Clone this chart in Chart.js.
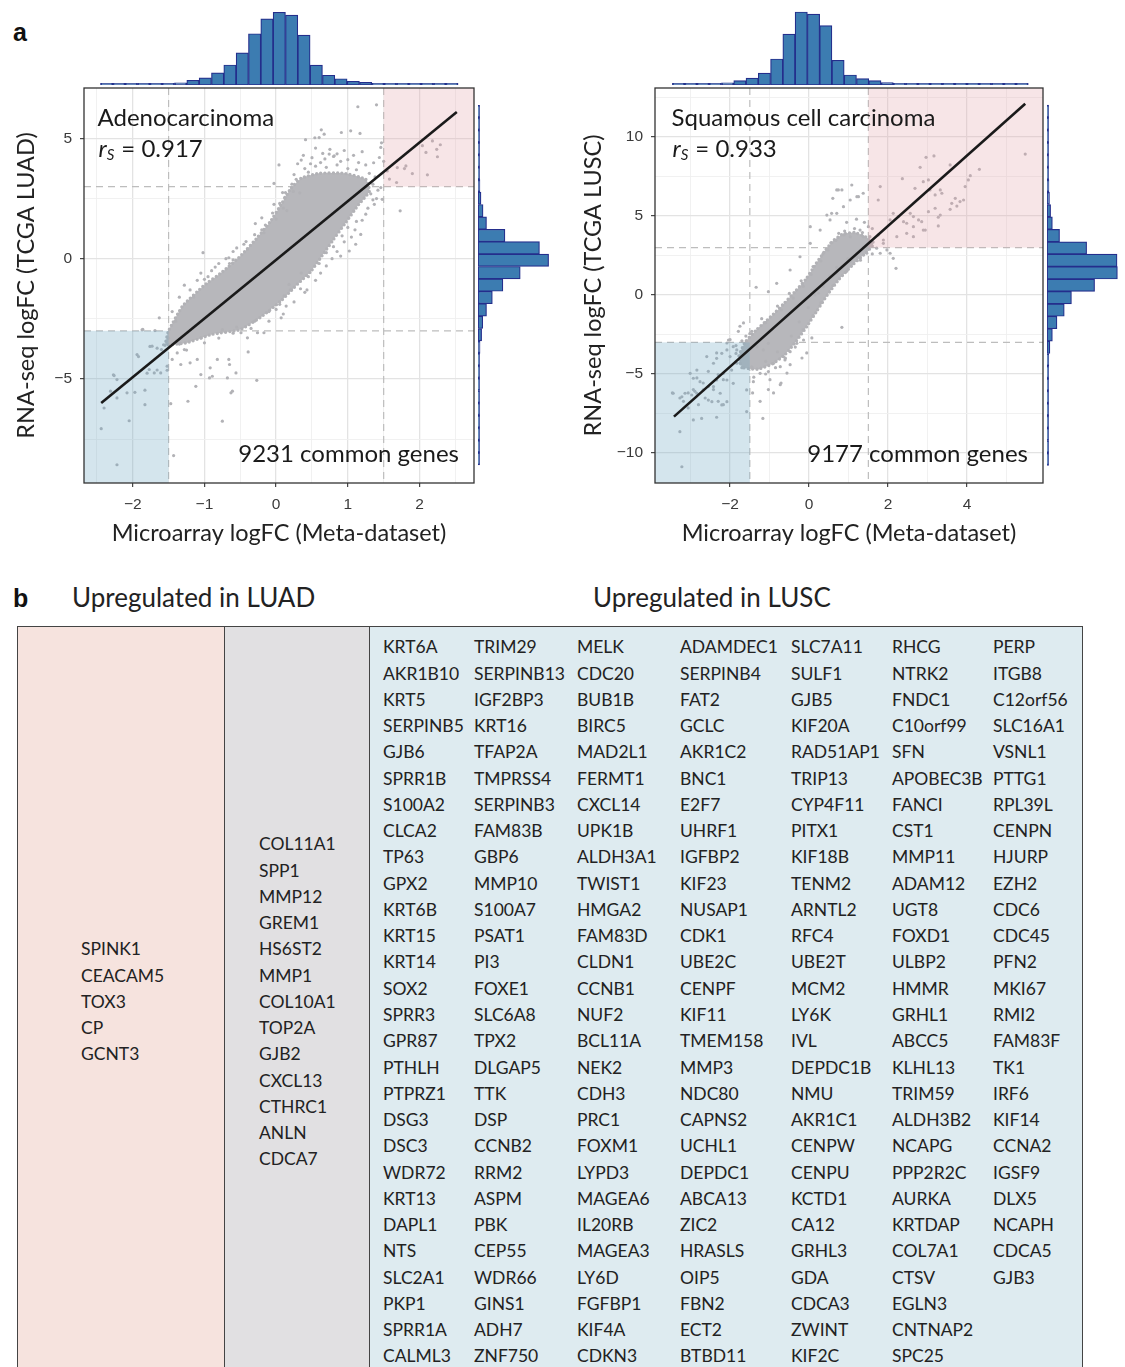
<!DOCTYPE html>
<html>
<head>
<meta charset="utf-8">
<title>LUAD / LUSC logFC comparison</title>
<script src="https://cdn.jsdelivr.net/npm/chart.js@4.4.1/dist/chart.umd.min.js"></script>
<style>
  html, body { margin: 0; padding: 0; background: #fff; }
  body { position: relative; width: 1125px; height: 1367px; overflow: hidden;
         font-family: Lato, 'Open Sans', sans-serif; color: #222; }
  canvas { position: absolute; }
  .panel-letter { position: absolute; font: bold 25px 'Liberation Sans', Arial, sans-serif; color: #111; line-height: 25px; }
  .section-title { position: absolute; font-size: 26px; line-height: 30px; color: #222; white-space: nowrap; }
  #gene-table { position: absolute; left: 17px; top: 626px; width: 1066px; height: 752px;
                display: flex; border: 1px solid #444; box-sizing: border-box;
                font-size: 17.5px; line-height: 26.26px; color: #222; }
  #gene-table .col { box-sizing: border-box; display: flex; flex-direction: column; justify-content: center; }
  #col-luad { width: 207px; background: #f6e3de; border-right: 1px solid #444; padding-left: 63px; }
  #col-gray { width: 145px; background: #e1e0e2; border-right: 1px solid #444; padding-left: 34px; }
  #col-lusc { flex: 1; background: #deebf0; padding-left: 13px; }
  #lusc-grid { display: grid; grid-template-columns: 91px 103px 103px 111px 101px 101px 1fr; }
  #lusc-grid div, #gene-table .col > div { white-space: nowrap; }
</style>
</head>
<body>
<div class="panel-letter" style="left:13px; top:20px;">a</div>
<div class="panel-letter" style="left:13px; top:586px;">b</div>
<div class="section-title" style="left:72px; top:582px;">Upregulated in LUAD</div>
<div class="section-title" style="left:593px; top:582px;">Upregulated in LUSC</div>

<canvas id="luad-top"></canvas>
<canvas id="luad-scatter"></canvas>
<canvas id="luad-side"></canvas>
<canvas id="lusc-top"></canvas>
<canvas id="lusc-scatter"></canvas>
<canvas id="lusc-side"></canvas>

<div id="gene-table">
  <div class="col" id="col-luad"></div>
  <div class="col" id="col-gray"></div>
  <div class="col" id="col-lusc"><div id="lusc-grid"></div></div>
</div>

<script>
// ---------- panel a, adenocarcinoma (microarray logFC, RNA-seq logFC) ----------
const luadPoints = [
  [1.14,6.32],[1.40,6.40],[0.63,5.36],[0.67,5.18],[0.60,5.04],[0.91,5.25],[1.04,5.32],[1.17,5.21],
  [0.41,4.95],[0.54,5.03],[1.46,4.63],[1.44,4.21],[0.74,4.35],[0.81,4.28],[0.65,4.38],[0.85,4.36],
  [0.04,3.90],[-0.03,3.13],[0.09,2.75],[0.13,2.75],[0.24,2.80],[0.33,2.74],[-0.03,2.26],[-0.29,1.46],
  [-0.17,1.08],[-0.42,0.71],[-0.66,0.04],[-1.02,0.25],[-1.00,-0.86],
  [1.69,3.79],[1.81,3.86],[1.79,3.75],[1.90,3.54],[2.11,3.49],[2.18,4.90],[2.25,4.24],[2.29,4.74],
  [2.04,4.70],[2.09,4.42],[2.24,4.55],[1.68,3.17],[1.55,3.65],[1.58,3.31],[1.50,4.05],[1.36,3.99],[1.47,4.82],
  [1.73,1.99],[1.48,2.47],[1.46,2.96],[1.37,2.26],[1.18,1.01],[1.11,0.60],[1.02,0.32],[0.90,0.11],
  [0.35,4.10],[0.50,4.20],[0.62,4.00],[0.90,4.05],[1.00,4.12],[1.15,4.00],[1.25,3.90],[0.45,3.60],
  [0.28,3.30],[1.38,3.40],[1.32,2.70],[1.40,2.50],[0.22,3.10],[0.30,3.95],[0.75,4.55],[0.95,4.50],
  [1.20,4.45],[0.55,4.60],
  [-0.70,0.00],[-0.80,-0.20],[-0.60,0.30],[-0.45,0.60],[-0.30,1.00],[-0.15,1.40],[-0.05,1.90],[0.05,2.30],
  [-1.10,-0.90],[-1.20,-1.30],[-1.35,-1.60],[-1.45,-2.20],[-0.90,-0.50],[-0.55,0.45],[-0.20,1.70],[0.10,2.10],
  [-1.28,-1.10],[-1.05,-0.60],
  [0.55,-0.90],[0.70,-0.30],[0.85,0.30],[0.95,0.70],[1.10,1.20],[1.20,1.60],[1.28,2.10],[0.25,-1.80],
  [0.10,-2.30],[-0.10,-2.60],[-0.35,-2.90],[-0.60,-3.10],[-0.80,-3.30],[-1.00,-3.50],[-1.25,-3.80],
  [0.62,-0.60],[0.40,-1.40],[0.78,0.00],[1.05,0.90],
  [0.25,3.50],[0.40,3.75],[0.55,3.85],[0.70,3.80],[0.85,3.90],[1.00,3.75],[1.12,3.70],[1.30,3.55],
  [0.38,4.30],[0.68,4.15],[1.08,4.30],[0.48,3.95],[0.80,4.25],[1.35,3.10],[1.42,2.85],[1.35,2.45],
  [1.25,1.85],[1.12,1.55],[1.00,1.30],[0.92,0.95],[0.80,0.50],[0.70,0.25],[0.60,-0.20],[0.45,-0.75],
  [0.35,-0.60],[0.20,-1.30],[0.05,-1.90],[-0.10,-2.20],[-0.30,-2.60],[-0.55,-2.85],[-0.75,-2.95],
  [-1.05,-3.30],[-1.35,-3.55],[-1.50,-3.30],[-1.40,-2.60],[-1.15,-1.60],[-0.95,-0.75],[-0.65,-0.20],
  [-0.40,0.40],[-0.20,1.20],[0.00,1.65],[0.12,2.55],[0.15,2.00],[-0.60,-0.05],[-0.85,-0.35],
  [-1.63,-2.46],[-1.86,-2.94],[-1.94,-3.99],[-1.73,-3.64],[-1.60,-3.78],[-2.26,-4.86],[-2.22,-5.03],
  [-2.31,-5.51],[-2.22,-5.79],[-2.08,-5.58],[-1.97,-5.56],[-1.83,-5.47],[-1.83,-6.07],[-2.40,-6.21],
  [-2.05,-6.74],[-2.44,-7.07],[-2.22,-8.57],[-1.43,-8.19],[-1.47,-6.03],[-1.23,-5.93],[-1.12,-5.31],
  [-0.75,-6.76],[-0.63,-5.58],[-0.61,-5.51],[-0.27,-5.06],[-0.56,-4.75],[-0.68,-4.96],[-0.93,-4.96],
  [-0.89,-4.89],[-1.05,-4.82],[-1.33,-4.40],[-1.20,-4.33],[-1.10,-4.19],[-0.92,-4.54],[-0.82,-4.19],
  [-0.66,-4.19],[-0.65,-4.40],[-0.39,-3.88],[-0.49,-3.08],[-0.40,-3.29],[-0.26,-3.08],[-0.17,-3.08],
  [0.11,-1.55],[0.14,-1.97],[0.07,-2.46],[0.00,-2.11],[0.34,-1.25],[0.43,-1.30],[0.18,-1.07],
  [-1.38,-3.92],[-1.28,-3.78],[-1.45,-4.19],[-1.52,-4.47],[-1.77,-4.61],[-1.70,-4.75],[-1.61,-4.75],
  [-1.52,-4.64],[-1.87,-2.96],[-1.69,-2.99],[-1.92,-4.07],[-1.76,-3.65],[-1.66,-3.72],[-1.57,-3.58],
  [-1.80,-4.76],[-1.66,-4.63],[-2.27,-4.83]
];
// outline of the solid, overplotted part of the cloud
const luadCore = [
  [-1.55,-3.60],[-1.50,-3.00],[-1.30,-1.95],[-1.00,-1.10],[-0.75,-0.55],[-0.50,0.10],[-0.27,0.85],
  [-0.08,1.55],[0.08,2.30],[0.20,2.90],[0.35,3.35],[0.60,3.55],[0.95,3.55],[1.25,3.30],[1.30,2.80],
  [1.15,2.25],[0.97,1.50],[0.80,0.80],[0.64,0.12],[0.48,-0.55],[0.30,-1.05],[0.08,-1.72],
  [-0.20,-2.40],[-0.50,-2.95],[-0.90,-3.15],[-1.25,-3.50],[-1.55,-3.60]
];
const luadFit = [[-2.44,-6.0],[2.52,6.1]];
const luadXHistCounts = [3,4,6,8,12,25,45,100,155,260,430,690,1100,1420,1560,1500,1070,425,210,135,80,58,30,20,14,10,8,6,4];
const luadYHistCounts = [3,4,6,8,10,14,20,30,38,65,115,150,270,455,790,1340,2240,1950,855,270,160,95,62,48,32,25,16,12,9];
const luadXTicks = [-2,-1,0,1,2];
const luadXMinor = [-2.5,-1.5,-0.5,0.5,1.5,2.5];
const luadYTicks = [-5,0,5];
const luadYMinor = [-7.5,-2.5,2.5];

// ---------- panel a, squamous cell carcinoma ----------
const luscPoints = [
  [5.47,8.92],[2.96,8.71],[3.16,8.80],[2.81,8.08],[3.57,8.23],[4.31,7.95],[4.08,7.55],[4.03,7.28],
  [3.95,6.86],[2.36,7.36],[2.89,7.17],[3.02,7.28],[2.68,6.75],[3.06,6.65],[3.32,6.65],[3.36,6.44],
  [3.19,6.33],[3.70,6.12],[3.82,5.91],[3.61,5.80],[3.74,5.63],[3.91,6.01],[3.02,5.27],[3.32,5.06],
  [3.19,5.49],[3.57,5.42],[3.27,4.37],[2.89,4.11],[2.64,4.96],[2.77,4.75],[2.56,5.17],[2.47,4.54],
  [2.39,4.64],[2.64,4.32],[2.85,4.64],[2.13,5.17],[2.26,4.96],[2.05,4.75],[1.80,6.86],[1.75,6.01],
  [1.08,6.96],[0.83,6.65],[0.74,6.65],[0.60,6.12],[1.25,6.22],[1.37,6.44],[0.03,4.32],[0.45,5.06],
  [0.57,5.17],[-1.34,0.49],[-1.03,0.21],[0.83,-2.05],[2.20,1.69],[2.05,2.64],[2.13,2.32],[1.80,2.64],
  [1.97,2.85],[1.88,3.48],
  [-3.44,-6.22],[-3.22,-6.44],[-3.14,-6.22],[-2.97,-6.33],[-2.84,-6.22],[-3.27,-8.65],[-3.22,-10.87],
  [-2.93,-7.91],[-2.72,-7.81],[-2.34,-7.74],[-1.17,-7.81],[-2.21,-6.96],[-2.08,-6.75],[-2.46,-6.75],
  [-2.55,-6.65],[-2.68,-6.01],[-2.55,-5.80],[-2.76,-5.49],[-2.93,-5.27],[-3.01,-4.96],[-2.84,-4.75],
  [-1.58,-7.38],[-1.58,-6.01],[-1.41,-5.49],[-1.24,-4.96],[-1.03,-4.85],[-0.90,-4.32],[-0.73,-4.54],
  [-0.65,-3.90],
  [-2.59,-3.90],[-2.42,-4.32],[-2.34,-4.01],[-2.21,-3.69],[-2.08,-3.48],[-2.00,-3.90],[-1.92,-3.27],
  [-1.83,-3.48],[-1.83,-4.32],[-1.96,-4.75],[-2.17,-4.96],[-2.34,-5.38],[-2.08,-5.38],[-2.25,-6.22],
  [-2.42,-5.80],[-1.92,-5.59],[-2.04,-2.85],[-1.32,-3.27],[-1.16,-3.48],[-1.03,-3.06],[-0.61,-4.11],
  [-0.48,-3.59],[-0.31,-3.06],[-0.14,-2.85],
  [0.24,0.11],[0.36,0.53],[0.45,0.95],[0.70,1.37],[0.83,1.79],[1.04,2.11],[1.21,2.42],[1.46,2.64],
  [1.71,2.96],[1.88,3.27],
  [-0.82,0.74],[-0.48,1.58],[-0.23,2.42],[0.03,3.27],[0.28,4.11],[0.53,4.75],[0.70,5.17],[0.87,5.59],
  [1.04,6.01],[1.21,6.22],[0.70,6.65],
  [1.29,4.11],[1.50,4.32],[1.04,3.69],[1.37,3.69],[1.54,3.69],[2.22,3.69],[2.47,3.90],[2.64,3.69],
  [2.94,4.11],[3.27,4.92],
  [-3.46,-6.20],[-3.27,-6.52],[-3.18,-6.73],[-3.06,-6.20],[-2.89,-6.10],[-2.30,-6.73],[-2.17,-6.94],
  [-1.24,-6.73],[-1.43,-6.20],[-1.03,-5.99],[-0.90,-6.20],[-0.73,-5.68],[-0.99,-5.36],[0.07,-2.72],
  [-0.06,-3.67],[-0.18,-3.99],[-0.48,-4.41],[-0.56,-4.94],[-0.71,-5.57],[-1.75,-1.98],[-1.66,-1.77],
  [-1.79,-2.30],[-2.08,-3.04],[-2.00,-2.83],[-2.34,-3.67],[-2.55,-4.83],[-2.84,-5.25],[-2.68,-5.57],
  [-2.93,-5.99],[-2.30,-5.04],[-2.17,-5.36],[-2.42,-5.99],[-2.63,-6.52],[-2.80,-6.94],[-3.06,-7.15],
  [-1.20,-1.50],[-1.45,-2.30],[-0.80,-0.70],[-0.50,0.10],[-0.20,0.90],[0.10,1.80],[0.35,2.60],
  [0.55,3.30],[0.75,3.90],[0.95,4.60],[1.20,4.80],[1.40,4.60],[1.60,4.20],[1.75,3.80],[-1.60,-2.60],
  [-1.85,-3.20],[0.60,0.60],[0.30,-0.50],[0.10,-1.30],[-0.15,-2.20],[-0.35,-3.30],[-0.60,-4.00],
  [-0.85,-4.60],[-1.10,-5.00],[-1.40,-5.20],[0.95,1.50],[1.30,2.20],[1.60,2.60],
  [0.90,4.05],[1.15,4.20],[1.35,3.95],[1.62,3.35],[1.45,3.05],[1.20,2.65],[0.98,2.30],[0.70,1.75],
  [0.52,1.20],[0.35,0.75],[0.15,0.00],[-0.02,-0.80],[-0.25,-1.70],[-0.45,-2.60],[-0.80,-3.60],
  [-1.10,-4.20],[-1.45,-4.55],[-1.75,-4.30],[-1.85,-3.70],[-1.70,-2.90],[-1.50,-2.45],[-1.10,-1.75],
  [-0.70,-0.95],[-0.40,-0.20],[-0.15,0.55],[0.05,1.30],[0.30,2.15],[0.48,2.85],[0.68,3.45],[0.88,3.80]
];
const luscCore = [
  [-1.70,-4.60],[-1.78,-3.90],[-1.62,-3.00],[-1.33,-2.20],[-0.98,-1.40],[-0.62,-0.50],[-0.36,0.20],
  [-0.08,1.00],[0.18,2.00],[0.42,2.85],[0.62,3.45],[0.85,3.85],[1.15,3.95],[1.45,3.65],[1.62,3.20],
  [1.45,2.70],[1.12,1.95],[0.76,1.00],[0.46,0.00],[0.20,-1.00],[-0.06,-2.00],[-0.32,-2.90],
  [-0.60,-3.75],[-0.92,-4.35],[-1.30,-4.70],[-1.70,-4.60]
];
const luscFit = [[-3.42,-7.7],[5.47,12.1]];
const luscXHistCounts = [10,13,15,25,56,109,172,299,658,1290,1847,1796,1505,625,253,164,109,63,35,25,20,15,13,12,10,8,8,7,7];
const luscYHistCounts = [11,11,14,14,17,23,28,34,51,82,152,282,488,691,1345,1990,1980,1120,355,152,102,70,56,34,28,23,17,14,11];
const luscXTicks = [-2,0,2,4];
const luscXMinor = [-3,-1,1,3,5];
const luscYTicks = [-10,-5,0,5,10];
const luscYMinor = [-7.5,-2.5,2.5,7.5,12.5];

// ---------- panel b gene lists ----------
const luadOnlyGenes = ['SPINK1','CEACAM5','TOX3','CP','GCNT3'];
const luadGrayGenes = ['COL11A1','SPP1','MMP12','GREM1','HS6ST2','MMP1','COL10A1','TOP2A','GJB2',
  'CXCL13','CTHRC1','ANLN','CDCA7'];
const luscGenes = [
  'KRT6A','TRIM29','MELK','ADAMDEC1','SLC7A11','RHCG','PERP',
  'AKR1B10','SERPINB13','CDC20','SERPINB4','SULF1','NTRK2','ITGB8',
  'KRT5','IGF2BP3','BUB1B','FAT2','GJB5','FNDC1','C12orf56',
  'SERPINB5','KRT16','BIRC5','GCLC','KIF20A','C10orf99','SLC16A1',
  'GJB6','TFAP2A','MAD2L1','AKR1C2','RAD51AP1','SFN','VSNL1',
  'SPRR1B','TMPRSS4','FERMT1','BNC1','TRIP13','APOBEC3B','PTTG1',
  'S100A2','SERPINB3','CXCL14','E2F7','CYP4F11','FANCI','RPL39L',
  'CLCA2','FAM83B','UPK1B','UHRF1','PITX1','CST1','CENPN',
  'TP63','GBP6','ALDH3A1','IGFBP2','KIF18B','MMP11','HJURP',
  'GPX2','MMP10','TWIST1','KIF23','TENM2','ADAM12','EZH2',
  'KRT6B','S100A7','HMGA2','NUSAP1','ARNTL2','UGT8','CDC6',
  'KRT15','PSAT1','FAM83D','CDK1','RFC4','FOXD1','CDC45',
  'KRT14','PI3','CLDN1','UBE2C','UBE2T','ULBP2','PFN2',
  'SOX2','FOXE1','CCNB1','CENPF','MCM2','HMMR','MKI67',
  'SPRR3','SLC6A8','NUF2','KIF11','LY6K','GRHL1','RMI2',
  'GPR87','TPX2','BCL11A','TMEM158','IVL','ABCC5','FAM83F',
  'PTHLH','DLGAP5','NEK2','MMP3','DEPDC1B','KLHL13','TK1',
  'PTPRZ1','TTK','CDH3','NDC80','NMU','TRIM59','IRF6',
  'DSG3','DSP','PRC1','CAPNS2','AKR1C1','ALDH3B2','KIF14',
  'DSC3','CCNB2','FOXM1','UCHL1','CENPW','NCAPG','CCNA2',
  'WDR72','RRM2','LYPD3','DEPDC1','CENPU','PPP2R2C','IGSF9',
  'KRT13','ASPM','MAGEA6','ABCA13','KCTD1','AURKA','DLX5',
  'DAPL1','PBK','IL20RB','ZIC2','CA12','KRTDAP','NCAPH',
  'NTS','CEP55','MAGEA3','HRASLS','GRHL3','COL7A1','CDCA5',
  'SLC2A1','WDR66','LY6D','OIP5','GDA','CTSV','GJB3',
  'PKP1','GINS1','FGFBP1','FBN2','CDCA3','EGLN3','',
  'SPRR1A','ADH7','KIF4A','ECT2','ZWINT','CNTNAP2','',
  'CALML3','ZNF750','CDKN3','BTBD11','KIF2C','SPC25',''
];

// ---------- layout ----------
const PAD_TOP = 8, PAD_RIGHT = 8, X_AXIS_HEIGHT = 78;
const POINT_GREY = 'rgb(178,178,182)';
const CORE_GREY = 'rgb(183,183,187)';
const BAR_FILL = 'rgb(60,124,177)';
const BAR_EDGE = 'rgb(36,46,140)';

const panels = [
  {
    id: 'luad', frame: { left: 84, top: 88, width: 390, height: 395 }, yAxisWidth: 84,
    xRange: [-2.68, 2.76], yRange: [-9.33, 7.1],
    xTicks: luadXTicks, xMinor: luadXMinor, yTicks: luadYTicks, yMinor: luadYMinor,
    points: luadPoints, core: luadCore, fit: luadFit,
    xHist: { counts: luadXHistCounts, start: -2.45, width: 0.172, tallest: 72.7 },
    yHist: { counts: luadYHistCounts, start: -8.58, width: 0.516, tallest: 70.6 },
    yTitle: 'RNA-seq logFC (TCGA LUAD)',
    label: 'Adenocarcinoma', rs: '0.917', genes: 9231, inset: 13.5
  },
  {
    id: 'lusc', frame: { left: 655, top: 88, width: 388, height: 395 }, yAxisWidth: 88,
    xRange: [-3.9, 5.92], yRange: [-11.9, 13.1],
    xTicks: luscXTicks, xMinor: luscXMinor, yTicks: luscYTicks, yMinor: luscYMinor,
    points: luscPoints, core: luscCore, fit: luscFit,
    xHist: { counts: luscXHistCounts, start: -3.46, width: 0.3106, tallest: 73 },
    yHist: { counts: luscYHistCounts, start: -10.78, width: 0.786, tallest: 70.4 },
    yTitle: 'RNA-seq logFC (TCGA LUSC)',
    label: 'Squamous cell carcinoma', rs: '0.933', genes: 9177, inset: 16.5
  }
];

function place(id, left, top, width, height) {
  const c = document.getElementById(id);
  c.width = width; c.height = height;
  c.style.left = left + 'px'; c.style.top = top + 'px';
  c.style.width = width + 'px'; c.style.height = height + 'px';
  return c;
}

function fmt(v) {
  return v < 0 ? '\u2212' + Math.abs(v) : String(v);
}

// corner shading, cut-off lines, frame and in-panel text
const panelDecor = {
  id: 'panelDecor',
  beforeDatasetsDraw(chart, args, o) {
    const { ctx, chartArea: a, scales: { x, y } } = chart;
    ctx.save();
    ctx.strokeStyle = '#bdbdbd';
    ctx.lineWidth = 1.2;
    ctx.setLineDash([7, 5]);
    for (const v of [-o.xCut, o.xCut]) {
      const px = x.getPixelForValue(v);
      ctx.beginPath(); ctx.moveTo(px, a.top); ctx.lineTo(px, a.bottom); ctx.stroke();
    }
    for (const v of [-o.yCut, o.yCut]) {
      const py = y.getPixelForValue(v);
      ctx.beginPath(); ctx.moveTo(a.left, py); ctx.lineTo(a.right, py); ctx.stroke();
    }
    ctx.restore();
  },
  afterDatasetDraw(chart, args, o) {
    if (args.index !== 1) return;
    const { ctx, chartArea: a, scales: { x, y } } = chart;
    const xl = x.getPixelForValue(-o.xCut), xr = x.getPixelForValue(o.xCut);
    const yu = y.getPixelForValue(o.yCut), yd = y.getPixelForValue(-o.yCut);
    ctx.save();
    ctx.fillStyle = 'rgba(112,170,194,0.3)';
    ctx.fillRect(a.left, yd, xl - a.left, a.bottom - yd);
    ctx.fillStyle = 'rgba(226,160,168,0.28)';
    ctx.fillRect(xr, a.top, a.right - xr, yu - a.top);
    ctx.restore();
  },
  afterDraw(chart, args, o) {
    const { ctx, chartArea: a } = chart;
    ctx.save();
    ctx.strokeStyle = '#333';
    ctx.lineWidth = 1.3;
    ctx.strokeRect(a.left, a.top, a.right - a.left, a.bottom - a.top);

    ctx.fillStyle = '#1a1a1a';
    ctx.textBaseline = 'alphabetic';
    ctx.textAlign = 'left';
    ctx.font = '24px Lato';
    ctx.fillText(o.label, a.left + o.inset, a.top + 37.7);

    let tx = a.left + o.inset + 1;
    const ty = a.top + 68.7;
    ctx.font = 'italic 24px Lato';
    ctx.fillText('r', tx, ty);
    tx += ctx.measureText('r').width;
    ctx.font = 'italic 15px Lato';
    ctx.fillText('S', tx, ty + 3);
    tx += ctx.measureText('S').width + 7;
    ctx.font = '24px Lato';
    ctx.fillText('= ' + o.rs, tx, ty);

    ctx.textAlign = 'right';
    ctx.fillText(o.genes + ' common genes', a.right - 15, a.bottom - 21.3);
    ctx.restore();
  }
};

function axisOptions(range, major, minor, isX, p, title) {
  const all = major.concat(minor).sort((a, b) => a - b);
  const isMajor = c => !!c.tick && major.includes(c.tick.value);
  return {
    type: 'linear',
    min: range[0],
    max: range[1],
    afterBuildTicks: s => { s.ticks = all.map(v => ({ value: v })); },
    afterFit: s => {
      // fixed axis boxes so the plot frame lands where the histograms expect it
      if (isX) { s.height = X_AXIS_HEIGHT; s.paddingLeft = 0; s.paddingRight = 0; }
      else { s.width = p.yAxisWidth; s.paddingTop = 0; s.paddingBottom = 0; }
    },
    border: { display: false },
    grid: {
      color: c => isMajor(c) ? '#e3e3e3' : '#efefef',
      lineWidth: c => isMajor(c) ? 1.3 : 0.9,
      tickColor: c => isMajor(c) ? '#333' : 'rgba(0,0,0,0)',
      tickLength: 4,
      tickWidth: 1.1
    },
    ticks: {
      autoSkip: false,
      maxRotation: 0,
      padding: 8,
      color: '#3a3a3a',
      font: { family: 'Liberation Sans', size: 15.5 },
      callback: v => major.includes(v) ? fmt(v) : ''
    },
    title: {
      display: true,
      text: title,
      color: '#222',
      font: { family: 'Lato', size: 23.5 },
      padding: isX ? { top: 0, bottom: 13 } : { top: 12, bottom: 0 }
    }
  };
}

function scatterChart(p) {
  const f = p.frame;
  const canvas = place(p.id + '-scatter', f.left - p.yAxisWidth, f.top - PAD_TOP,
    p.yAxisWidth + f.width + PAD_RIGHT, PAD_TOP + f.height + X_AXIS_HEIGHT);
  const xy = arr => arr.map(([x, y]) => ({ x, y }));

  new Chart(canvas, {
    type: 'scatter',
    data: {
      datasets: [
        { type: 'line', data: xy(p.fit), borderColor: '#1a1a1a', borderWidth: 2.6,
          pointRadius: 0, fill: false },
        { data: xy(p.points), pointRadius: 1.6, pointBorderWidth: 0,
          pointBackgroundColor: POINT_GREY, backgroundColor: POINT_GREY },
        // dense overplotted core: filled outline with a dotted rim
        { type: 'line', data: xy(p.core), borderColor: POINT_GREY, backgroundColor: CORE_GREY,
          borderWidth: 3.4, borderDash: [0, 4.2], borderCapStyle: 'round',
          pointRadius: 0, tension: 0.15, fill: 'shape' }
      ]
    },
    options: {
      responsive: false,
      animation: false,
      events: [],
      layout: { padding: { top: PAD_TOP, right: PAD_RIGHT, left: 0, bottom: 0 } },
      plugins: {
        legend: { display: false },
        tooltip: { enabled: false },
        panelDecor: { xCut: 1.5, yCut: 3, label: p.label, rs: p.rs, genes: p.genes, inset: p.inset }
      },
      scales: {
        x: axisOptions(p.xRange, p.xTicks, p.xMinor, true, p, 'Microarray logFC (Meta-dataset)'),
        y: axisOptions(p.yRange, p.yTicks, p.yMinor, false, p, p.yTitle)
      }
    },
    plugins: [panelDecor]
  });
}

function histChart(canvasId, box, hist, range, horizontal) {
  const canvas = place(canvasId, box.left, box.top, box.width, box.height);
  const extent = horizontal ? box.width : box.height;
  const countMax = Math.max(...hist.counts) * extent / hist.tallest;
  const data = hist.counts.map((c, i) => {
    const mid = hist.start + (i + 0.5) * hist.width;
    return horizontal ? { x: c, y: mid } : { x: mid, y: c };
  });
  const indexScale = {
    type: 'linear', min: range[0], max: range[1], offset: false, display: false,
    afterBuildTicks: s => { s.ticks = []; }
  };
  const valueScale = { type: 'linear', min: 0, max: countMax, display: false };

  new Chart(canvas, {
    type: 'bar',
    data: {
      datasets: [{
        data,
        backgroundColor: BAR_FILL,
        borderColor: BAR_EDGE,
        borderWidth: 1.2,
        borderSkipped: false,
        barPercentage: 1,
        categoryPercentage: 1,
        minBarLength: 1.6
      }]
    },
    options: {
      indexAxis: horizontal ? 'y' : 'x',
      responsive: false,
      animation: false,
      events: [],
      layout: { padding: 0 },
      plugins: { legend: { display: false }, tooltip: { enabled: false } },
      scales: horizontal ? { x: valueScale, y: indexScale } : { x: indexScale, y: valueScale }
    }
  });
}

Chart.defaults.font.family = 'Liberation Sans';

for (const p of panels) {
  const f = p.frame;
  scatterChart(p);
  histChart(p.id + '-top', { left: f.left, top: f.top - 3 - 76, width: f.width, height: 76 },
    p.xHist, p.xRange, false);
  histChart(p.id + '-side', { left: f.left + f.width + 4, top: f.top, width: 74, height: f.height },
    p.yHist, p.yRange, true);
}

// ---------- panel b table ----------
function fillList(el, genes) {
  el.innerHTML = genes.map(g => `<div>${g}</div>`).join('');
}
fillList(document.getElementById('col-luad'), luadOnlyGenes);
fillList(document.getElementById('col-gray'), luadGrayGenes);
fillList(document.getElementById('lusc-grid'), luscGenes);
</script>
</body>
</html>
